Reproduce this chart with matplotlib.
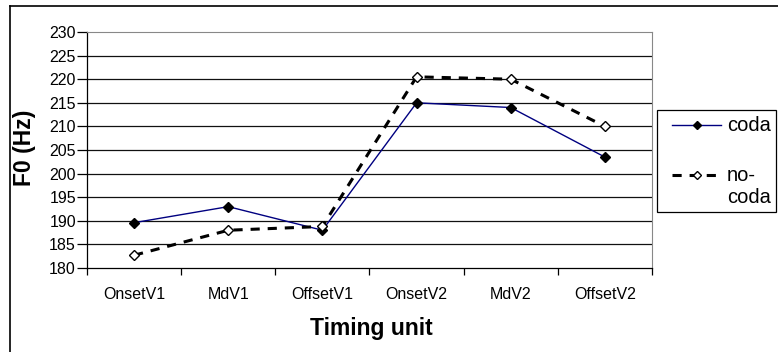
import matplotlib
matplotlib.use("Agg")
import matplotlib.pyplot as plt
from matplotlib.lines import Line2D
from matplotlib.patches import Rectangle

# values
timing_units = ["OnsetV1", "MdV1", "OffsetV1", "OnsetV2", "MdV2", "OffsetV2"]
coda = [189.6, 193.0, 188.0, 215.0, 214.0, 203.5]
no_coda = [182.7, 188.0, 188.8, 220.5, 220.0, 210.0]
y_ticks = list(range(180, 231, 5))
series_names = ["coda", "no-\ncoda"]

plt.rcParams["font.family"] = ["Liberation Sans", "DejaVu Sans"]

W, H = 778, 352
fig = plt.figure(figsize=(W / 100, H / 100), dpi=100)
ax = fig.add_axes([87 / W, 1 - 268 / H, (652 - 87) / W, (268 - 32) / H])

styles = [
    dict(color="#000080", lw=1.0, ls="-", marker="D", mfc="black", mec="black"),
    dict(color="black", lw=2.2, ls=(0, (3, 2.6)), marker="D", mfc="white",
         mec="black", mew=1.0),
]

x = list(range(len(timing_units)))
for vals, st in zip([coda, no_coda], styles):
    ax.plot(x, vals, ms=5.5, zorder=3, **st)

ax.set_xlim(-0.5, len(timing_units) - 0.5)
ax.set_ylim(180, 230)
ax.set_yticks(y_ticks)
ax.set_yticklabels([str(v) for v in y_ticks], fontsize=11.5)
for v in y_ticks[1:-1]:
    ax.axhline(v, color="#111111", lw=0.9, zorder=1)

# category labels centred, ticks on the boundaries (Excel style)
ax.set_xticks([i - 0.5 for i in range(len(timing_units) + 1)])
ax.set_xticklabels([])
ax.set_xticks(x, minor=True)
ax.set_xticklabels(timing_units, minor=True, fontsize=11.5)
ax.tick_params(axis="x", which="minor", length=0, pad=14)
ax.tick_params(axis="x", which="major", length=5, width=0.9, direction="out")
ax.tick_params(axis="y", length=7, width=0.9, pad=1, direction="out")

for side in ["top", "right"]:
    ax.spines[side].set_color("#888888")
for side in ["left", "bottom"]:
    ax.spines[side].set_color("black")
    ax.spines[side].set_linewidth(0.9)

fig.text(371 / W, 1 - 328 / H, "Timing unit", fontsize=16.5, fontweight="bold",
         ha="center", va="center")
fig.text(25 / W, 1 - 148 / H, "F0 (Hz)", fontsize=16.5, fontweight="bold",
         rotation=90, ha="center", va="center")

# legend drawn by hand so the handle lines up with the first text line
tf = fig.transFigure
fig.add_artist(Rectangle((657 / W, 1 - 212 / H), 119 / W, 102 / H, fill=False,
                         edgecolor="black", lw=0.9, transform=tf))
for i, (name, st) in enumerate(zip(series_names, styles)):
    yy = 1 - (125 + 50 * i) / H
    fig.add_artist(Line2D([672 / W, 721 / W], [yy, yy], transform=tf,
                          **{k: v for k, v in st.items() if k != "marker"}))
    fig.add_artist(Line2D([697 / W], [yy], transform=tf, ls="none", ms=4.5,
                          **{k: v for k, v in st.items() if k not in ("ls", "lw", "color")}))
    fig.text(727 / W, yy + 9 / H, name, fontsize=14.5, ha="left", va="top",
             linespacing=1.2)

# outer chart border
fig.add_artist(Line2D([10 / W, 10 / W], [0, 1 - 6 / H], color="black", lw=1.2,
                      transform=tf))
fig.add_artist(Line2D([10 / W, 1], [1 - 6 / H, 1 - 6 / H], color="black", lw=1.2,
                      transform=tf))

fig.savefig("out.png", dpi=100)
